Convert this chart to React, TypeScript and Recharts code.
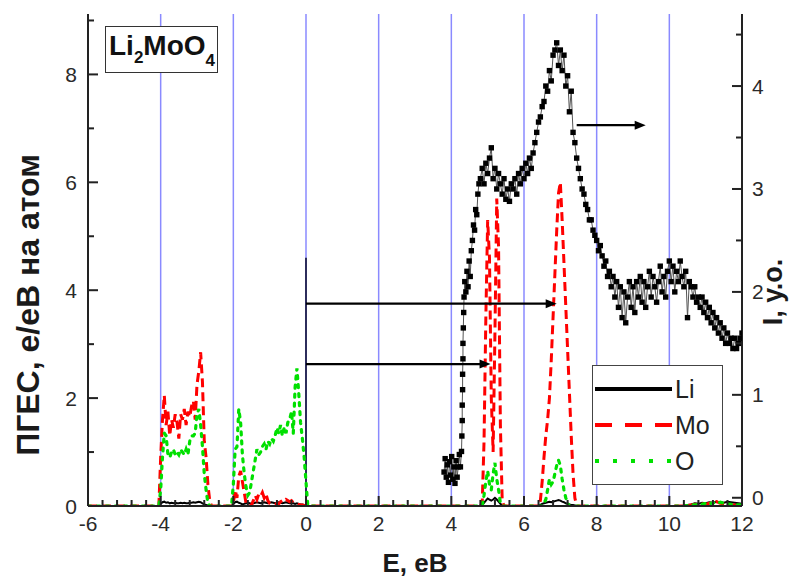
import { ComposedChart, Line, XAxis, YAxis, ReferenceLine, Legend } from 'recharts'

// ---- axes ----
const xMajor = [-6, -4, -2, 0, 2, 4, 6, 8, 10, 12]
const leftMajor = [0, 2, 4, 6, 8]
const rightMajor = [0, 1, 2, 3, 4]
const blueLines = [-4, -2, 0, 2, 4, 6, 8, 10]
const xDomain = [-6, 12]
const leftDomain = [0, 9.12]
const rightDomain = [-0.08, 4.7]

// ---- partial DOS (e/eV per atom), bands sampled every 0.05 eV (tail every 0.1 eV) ----
const bandA = { start: -4.05, step: 0.05 }
const bandB = { start: -2.05, step: 0.05 }
const bandC = { start: 4.8, step: 0.05 }
const bandD = { start: 6.4, step: 0.05 }
const bandE = { start: 10.4, step: 0.1 }

const liA = [0, 0.04, 0.07, 0.08, 0.06, 0.07, 0.05, 0.06, 0.05, 0.06, 0.05, 0.05, 0.06, 0.05, 0.06, 0.05, 0.05, 0.06, 0.06, 0.07, 0.06, 0.07, 0.08, 0.07, 0.05, 0.03, 0.02, 0.01, 0, 0, 0]
const moA = [0, 0.9, 1.6, 2.05, 1.5, 1.75, 1.3, 1.6, 1.45, 1.7, 1.55, 1.25, 1.7, 1.6, 1.8, 1.5, 1.75, 1.65, 1.85, 1.95, 1.6, 2.25, 2.5, 2.85, 2.3, 1.2, 0.9, 0.4, 0.1, 0, 0]
const oA = [0, 0.3, 0.9, 1.35, 1.3, 0.95, 0.9, 1.0, 1.05, 0.95, 1.0, 0.95, 1.05, 1.0, 0.95, 1.05, 0.95, 1.2, 1.3, 1.3, 1.35, 1.7, 1.8, 1.5, 1.1, 0.6, 0.3, 0.05, 0, 0, 0]

const liB = [0, 0.04, 0.07, 0.08, 0.06, 0.05, 0.03, 0.04, 0.05, 0.06, 0.05, 0.04, 0.05, 0.06, 0.07, 0.06, 0.05, 0.06, 0.07, 0.06, 0.05, 0.06, 0.07, 0.06, 0.05, 0.06, 0.07, 0.06, 0.05, 0.06, 0.07, 0.06, 0.05, 0.06, 0.05, 0.04, 0.05, 0.04, 0.03, 0.03, 0.02, 0.01, 0]
const moB = [0, 0.05, 0.3, 0.15, 0.55, 0.65, 0.45, 0.25, 0.05, 0, 0, 0.02, 0.1, 0.2, 0.12, 0.22, 0.18, 0.25, 0.15, 0.22, 0.1, 0.05, 0.03, 0.04, 0.03, 0.05, 0.04, 0.08, 0.1, 0.08, 0.12, 0.1, 0.08, 0.1, 0.06, 0.05, 0.04, 0.03, 0.02, 0.02, 0.01, 0, 0]
const oB = [0, 0.4, 1.05, 1.1, 1.8, 1.55, 0.95, 0.6, 0.35, 0.2, 0.25, 0.45, 0.65, 0.85, 1.05, 0.95, 1.0, 1.1, 1.15, 1.05, 1.2, 1.15, 1.25, 1.2, 1.3, 1.45, 1.35, 1.5, 1.3, 1.45, 1.35, 1.55, 1.6, 1.75, 1.35, 2.2, 2.55, 2.1, 1.55, 1.25, 0.9, 0.45, 0]

const liC = [0, 0.02, 0.06, 0.1, 0.14, 0.12, 0.1, 0.12, 0.15, 0.12, 0.08, 0.04, 0.01, 0]
const moC = [0, 0.05, 1.2, 3.5, 5.3, 4.6, 2.0, 1.0, 3.2, 5.7, 4.8, 1.5, 0.1, 0]
const oC = [0, 0, 0.2, 0.45, 0.65, 0.4, 0.3, 0.6, 0.8, 0.5, 0.3, 0.05, 0, 0]

const liD = [0, 0.02, 0.04, 0.05, 0.06, 0.07, 0.08, 0.07, 0.08, 0.09, 0.1, 0.11, 0.1, 0.08, 0.07, 0.05, 0.04, 0.03, 0.02, 0.02, 0.01, 0]
const moD = [0, 0.1, 0.45, 0.9, 1.3, 1.6, 2.0, 2.7, 3.5, 4.3, 5.1, 5.8, 6.0, 5.3, 4.5, 3.7, 2.9, 2.1, 1.3, 0.6, 0.15, 0]
const oD = [0, 0, 0, 0.05, 0.12, 0.3, 0.5, 0.4, 0.45, 0.6, 0.75, 0.85, 0.75, 0.5, 0.3, 0.15, 0.05, 0, 0, 0, 0, 0]

const liE = [0, 0.02, 0.03, 0.05, 0.04, 0.06, 0.05, 0.07, 0.06, 0.08, 0.07, 0.06, 0.08, 0.07, 0.06, 0.05, 0.04]
const moE = [0, 0.01, 0.02, 0.03, 0.02, 0.04, 0.03, 0.05, 0.06, 0.08, 0.05, 0.04, 0.03, 0.02, 0.02, 0.01, 0.01]
const oE = [0, 0.01, 0.02, 0.02, 0.03, 0.03, 0.05, 0.04, 0.06, 0.05, 0.07, 0.05, 0.04, 0.03, 0.02, 0.02, 0.02]

// ---- measured spectrum I (arb. units), right axis ----
const expRiseE = [3.8, 3.83, 3.86, 3.89, 3.92, 3.95, 3.98, 4.01, 4.04, 4.07, 4.1, 4.13, 4.16, 4.19, 4.22, 4.25,
  4.28, 4.29, 4.3, 4.3, 4.31, 4.31, 4.32, 4.32, 4.33, 4.34, 4.35, 4.37, 4.4, 4.43, 4.46, 4.49, 4.52, 4.55, 4.58, 4.61, 4.64, 4.67, 4.7, 4.73, 4.76]
const expRiseI = [0.25, 0.38, 0.2, 0.32, 0.15, 0.35, 0.22, 0.4, 0.18, 0.3, 0.14, 0.36, 0.2, 0.3, 0.42, 0.3,
  0.45, 0.6, 0.75, 0.9, 1.05, 1.2, 1.35, 1.5, 1.65, 1.8, 1.95, 2.1, 2.0, 2.2, 2.05, 2.3, 2.15, 2.4, 2.5, 2.65, 2.6, 2.8, 2.75, 2.95, 3.05]
const expGrid = { start: 4.8, step: 0.05 }
const expI = [
  3.1, 3.2, 3.05, 3.25, 3.15, 3.3, 3.4, 3.1, 3.2, 3.0,
  3.15, 3.05, 2.95, 3.1, 2.9, 3.0, 2.88, 3.05, 3.0, 3.1,
  2.95, 3.15, 3.05, 3.2, 3.1, 3.25, 3.15, 3.3, 3.2, 3.35,
  3.45, 3.55, 3.65, 3.7, 3.8, 3.85, 4.0, 3.95, 4.15, 4.05,
  4.3, 4.35, 4.42, 4.2, 4.35, 4.15, 4.3, 4.0, 4.1, 3.75,
  3.95, 3.55, 3.45, 3.3, 3.2, 3.1, 3.0, 2.95, 2.85, 2.8,
  2.7, 2.7, 2.6, 2.55, 2.5, 2.4, 2.45, 2.35, 2.25, 2.3,
  2.15, 2.2, 2.05, 2.15, 1.95, 2.1, 1.85, 2.05, 1.75, 2.0,
  1.7, 1.95, 2.1, 1.85, 2.05, 1.8, 2.1, 1.95, 2.15, 1.9,
  2.1, 1.85, 2.05, 2.2, 1.95, 2.15, 2.05, 1.9, 2.1, 2.25,
  2.0, 2.15, 1.95, 2.2, 2.3, 2.1, 2.25, 2.0, 2.2, 2.1,
  2.3, 2.15, 2.05, 2.2, 1.75, 2.1, 2.05, 1.95, 2.05, 1.9,
  1.95, 1.85, 1.95, 1.8, 1.9, 1.75, 1.85, 1.7, 1.8, 1.65,
  1.75, 1.6, 1.7, 1.55, 1.65, 1.5, 1.6, 1.5, 1.55, 1.45,
  1.55, 1.45, 1.5, 1.55, 1.6,
]

// ---- arrows: [E from, E to, value on left axis] ----
const arrows = [
  [0, 6.9, 3.75],
  [0, 5.08, 2.63],
  [7.45, 9.35, 7.06],
]
const zeroMarkTop = 4.6

type Pt = { E: number; v: number }

function band(b: { start: number; step: number }, vals: number[]): Pt[] {
  return vals.map((v, i) => ({ E: +(b.start + i * b.step).toFixed(3), v }))
}

function dos(a: number[], b: number[], c: number[], d: number[], e: number[]): Pt[] {
  return [
    { E: -6, v: 0 },
    ...band(bandA, a),
    ...band(bandB, b),
    ...band(bandC, c),
    ...band(bandD, d),
    ...band(bandE, e),
  ]
}

const liData = dos(liA, liB, liC, liD, liE)
const moData = dos(moA, moB, moC, moD, moE)
const oData = dos(oA, oB, oC, oD, oE)
const expData: Pt[] = [
  ...expRiseE.map((E, i) => ({ E, v: expRiseI[i] })),
  ...band(expGrid, expI),
]

const series = [
  { name: 'Li', data: liData, color: '#000000', width: 2, dash: undefined as string | undefined, legendDash: undefined as string | undefined },
  { name: 'Mo', data: moData, color: '#ff0000', width: 3, dash: '9 5', legendDash: '17 13' },
  { name: 'O', data: oData, color: '#00e000', width: 3.2, dash: '3 6', legendDash: '4 14' },
]

const font = 'Liberation Sans, Arial, Helvetica, sans-serif'
const axisColor = '#222'
const GAP = 10
const MAJOR_LEN = 10
const MINOR_LEN = 6

function withMinor(majors: number[], parts: number, hi: number) {
  const step = (majors[1] - majors[0]) / parts
  const out: number[] = []
  for (let i = 0; majors[0] + i * step <= hi + 1e-6; i++) out.push(+(majors[0] + i * step).toFixed(4))
  return out
}
const isMajor = (v: number, majors: number[]) => majors.some((m) => Math.abs(m - v) < 1e-3)

const tickText = { fontFamily: font, fontSize: 21, fill: '#2a2a2a' }
const titleText = { fontFamily: font, fontWeight: 700, fill: '#1a1a1a' }

// tick marks point into the plot
const BottomTick = (p: any) => {
  const x = Number(p.x)
  const ay = Number(p.y) - GAP
  const major = isMajor(p.payload.value, xMajor)
  const len = major ? MAJOR_LEN : MINOR_LEN
  return (
    <g>
      <rect x={x - 1} y={ay - len} width={2} height={len} fill={axisColor} />
      {major && (
        <text x={x} y={ay + 25} textAnchor="middle" {...tickText}>
          {p.payload.value}
        </text>
      )}
    </g>
  )
}

const TopTick = (p: any) => {
  const x = Number(p.x)
  const ay = Number(p.y) + GAP
  const len = isMajor(p.payload.value, xMajor) ? MAJOR_LEN : MINOR_LEN
  return <rect x={x - 1} y={ay} width={2} height={len} fill={axisColor} />
}

const LeftTick = (p: any) => {
  const y = Number(p.y)
  const ax = Number(p.x) + GAP
  const major = isMajor(p.payload.value, leftMajor)
  const len = major ? MAJOR_LEN : MINOR_LEN
  return (
    <g>
      <rect x={ax} y={y - 1} width={len} height={2} fill={axisColor} />
      {major && (
        <text x={ax - 11} y={y + 7.5} textAnchor="end" {...tickText}>
          {p.payload.value}
        </text>
      )}
    </g>
  )
}

const RightTick = (p: any) => {
  const y = Number(p.y)
  const ax = Number(p.x) - GAP
  const major = isMajor(p.payload.value, rightMajor)
  const len = major ? MAJOR_LEN : MINOR_LEN
  return (
    <g>
      <rect x={ax - len} y={y - 1} width={len} height={2} fill={axisColor} />
      {major && (
        <text x={ax + 10} y={y + 7.5} textAnchor="start" {...tickText}>
          {p.payload.value}
        </text>
      )}
    </g>
  )
}

const XTitle = (p: any) => {
  const vb = p.viewBox
  return (
    <text x={vb.x + vb.width / 2} y={vb.y + 66} textAnchor="middle" fontSize={26} {...titleText}>
      E, eB
    </text>
  )
}

const LeftTitle = (p: any) => {
  const vb = p.viewBox
  const cx = vb.x
  const cy = vb.y + 291
  return (
    <text x={cx} y={cy} transform={`rotate(-90 ${cx} ${cy})`} textAnchor="middle" dominantBaseline="central" fontSize={32} {...titleText}>
      ПГЕС, е/еВ на атом
    </text>
  )
}

const RightTitle = (p: any) => {
  const vb = p.viewBox
  const cx = vb.x + 31
  const cy = vb.y + 278
  return (
    <text x={cx} y={cy} transform={`rotate(-90 ${cx} ${cy})`} textAnchor="middle" dominantBaseline="central" fontSize={27} {...titleText}>
      I, у.о.
    </text>
  )
}

const Arrow = (p: any) => {
  const { x1, y1, x2, y2 } = p
  return (
    <g>
      <line x1={x1} y1={y1} x2={x2 - 6} y2={y2} stroke="#000" strokeWidth={2.2} />
      <polygon points={`${x2},${y2} ${x2 - 11},${y2 - 4.5} ${x2 - 11},${y2 + 4.5}`} fill="#000" />
    </g>
  )
}

const LegendBox = () => (
  <div style={{ width: 131, height: 120, boxSizing: 'border-box', border: '1.5px solid #444', background: '#fff' }}>
    <svg width={128} height={117} style={{ display: 'block' }}>
      {series.map((s, i) => {
        const cy = 23 + i * 36
        return (
          <g key={s.name}>
            <line x1={2} x2={79} y1={cy} y2={cy} stroke={s.color} strokeWidth={4} strokeDasharray={s.legendDash} />
            <text x={82} y={cy + 9} fontFamily={font} fontSize={25} fill="#222">
              {s.name}
            </text>
          </g>
        )
      })}
    </svg>
  </div>
)

const SquareDot = (p: any) => {
  const { cx, cy, index } = p
  if (cx == null || cy == null) return null
  return <rect key={`sq-${index}`} x={cx - 2.7} y={cy - 2.7} width={5.4} height={5.4} fill="#000" />
}

export default function App() {
  return (
    <div style={{ position: 'fixed', left: 0, top: 0, width: 805, height: 581, background: '#fff' }}>
      <ComposedChart width={805} height={581} margin={{ top: 14, right: 13, left: 28, bottom: 25 }}>
        <XAxis
          xAxisId="b"
          dataKey="E"
          type="number"
          domain={xDomain}
          allowDataOverflow
          ticks={withMinor(xMajor, 5, 12)}
          interval={0}
          tickSize={0}
          tickMargin={GAP}
          tick={BottomTick}
          tickLine={false}
          axisLine={{ stroke: axisColor, strokeWidth: 2 }}
          height={50}
          label={XTitle}
        />
        <XAxis
          xAxisId="t"
          orientation="top"
          dataKey="E"
          type="number"
          domain={xDomain}
          allowDataOverflow
          ticks={withMinor(xMajor, 6, 12)}
          interval={0}
          tickSize={0}
          tickMargin={GAP}
          tick={TopTick}
          tickLine={false}
          axisLine={{ stroke: axisColor, strokeWidth: 2 }}
          height={0}
        />
        <YAxis
          yAxisId="left"
          type="number"
          domain={leftDomain}
          allowDataOverflow
          ticks={withMinor(leftMajor, 2, leftDomain[1])}
          interval={0}
          tickSize={0}
          tickMargin={GAP}
          tick={LeftTick}
          tickLine={false}
          axisLine={{ stroke: axisColor, strokeWidth: 2 }}
          width={60}
          label={LeftTitle}
        />
        <YAxis
          yAxisId="right"
          orientation="right"
          type="number"
          domain={rightDomain}
          allowDataOverflow
          ticks={withMinor(rightMajor, 2, rightDomain[1])}
          interval={0}
          tickSize={0}
          tickMargin={GAP}
          tick={RightTick}
          tickLine={false}
          axisLine={{ stroke: axisColor, strokeWidth: 2 }}
          width={50}
          label={RightTitle}
        />
        {blueLines.map((x) => (
          <ReferenceLine key={`g${x}`} xAxisId="b" yAxisId="left" x={x} stroke="#8a8aff" strokeWidth={1.5} />
        ))}
        <ReferenceLine
          xAxisId="b"
          yAxisId="left"
          segment={[{ x: 0, y: 0 }, { x: 0, y: zeroMarkTop }]}
          stroke="#20204a"
          strokeWidth={1.8}
        />
        {series.map((s) => (
          <Line
            key={s.name}
            xAxisId="b"
            yAxisId="left"
            data={s.data}
            dataKey="v"
            name={s.name}
            type="linear"
            stroke={s.color}
            strokeWidth={s.width}
            strokeDasharray={s.dash}
            strokeLinecap={s.name === 'O' ? 'round' : 'butt'}
            dot={false}
            activeDot={false}
            isAnimationActive={false}
          />
        ))}
        <Line
          xAxisId="b"
          yAxisId="right"
          data={expData}
          dataKey="v"
          name="I"
          type="linear"
          stroke="#555"
          strokeWidth={1}
          dot={SquareDot}
          activeDot={false}
          legendType="none"
          isAnimationActive={false}
        />
        {arrows.map(([a, b, y], i) => (
          <ReferenceLine
            key={`a${i}`}
            xAxisId="b"
            yAxisId="left"
            segment={[{ x: a, y }, { x: b, y }]}
            shape={Arrow}
          />
        ))}
        <Legend
          layout="vertical"
          align="center"
          verticalAlign="middle"
          wrapperStyle={{ left: 592, top: 365, width: 131, height: 120 }}
          content={LegendBox}
        />
      </ComposedChart>
      <div
        style={{
          position: 'absolute',
          left: 105,
          top: 26,
          width: 113,
          height: 47,
          boxSizing: 'border-box',
          border: '1.5px solid #333',
          background: '#fff',
        }}
      >
        <svg width={110} height={44} style={{ display: 'block' }}>
          <text x={3} y={28} fontFamily={font} fontWeight={700} fontSize={28} fill="#111">
            Li
            <tspan dy={8} fontSize={17}>2</tspan>
            <tspan dy={-8}>MoO</tspan>
            <tspan dy={11} fontSize={17}>4</tspan>
          </text>
        </svg>
      </div>
    </div>
  )
}
